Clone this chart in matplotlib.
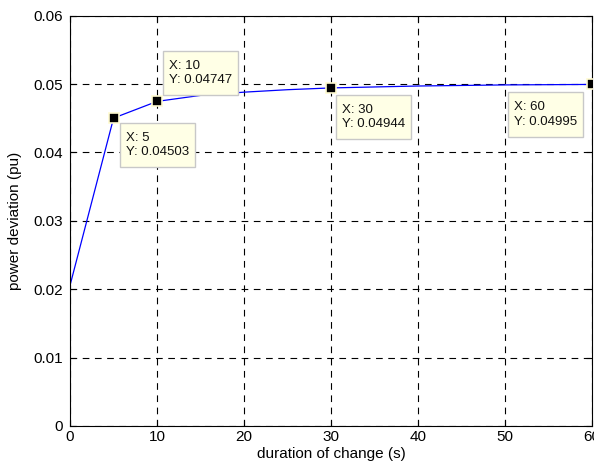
import numpy as np
import matplotlib.pyplot as plt
from matplotlib.transforms import IdentityTransform

plt.rcParams['font.family'] = ['Liberation Sans', 'DejaVu Sans']

# duration of change (s) vs power deviation (pu)
duration = [0, 5, 10, 15, 20, 25, 30, 40, 50, 60]
deviation = [0.0206, 0.04503, 0.04747, 0.04835, 0.04882, 0.04918, 0.04944, 0.04972, 0.04988, 0.04995]

# data tips
tip_x = [5, 10, 30, 60]
tip_y = [0.04503, 0.04747, 0.04944, 0.04995]
tip_off = [(12, -14), (12, 15), (11, -16), (-15, -17)]
tip_ha = ['left', 'left', 'left', 'right']
tip_va = ['top', 'bottom', 'top', 'top']

fig = plt.figure(figsize=(5.94, 4.69), dpi=100)
ax = fig.add_axes([0.118, 0.0917, 0.8786, 0.8748])

ax.plot(duration, deviation, color='#0000ff', lw=0.9)
ax.plot(tip_x, tip_y, 's', color='black', ms=7.5, mec='#fffbd0', mew=1.2, zorder=5)

tips = []
for x, y, off, ha, va in zip(tip_x, tip_y, tip_off, tip_ha, tip_va):
    t = ax.annotate('X: %g\nY: %s' % (x, ('%.5f' % y).rstrip('0')), xy=(x, y), xytext=off,
                    textcoords='offset pixels', ha=ha, va=va, fontsize=9.5,
                    multialignment='left', linespacing=1.25, zorder=7, color='#111111')
    tips.append(t)

ax.set_xlim(0, 60)
ax.set_ylim(0, 0.06)
ax.set_xticks(np.arange(0, 61, 10))
ax.set_yticks(np.arange(0, 0.061, 0.01))
ax.set_yticklabels(['0', '0.01', '0.02', '0.03', '0.04', '0.05', '0.06'])
ax.grid(True, color='black', ls=(0, (6, 5)), lw=0.8)
ax.tick_params(direction='in', length=4, labelsize=11, top=True, right=True)
ax.tick_params(axis='y', pad=5)
ax.tick_params(axis='x', pad=3)
for s in ax.spines.values():
    s.set_linewidth(0.8)

ax.set_xlabel('duration of change (s)', fontsize=11, labelpad=2)
ax.set_ylabel('power deviation (pu)', fontsize=11)
ax.yaxis.set_label_coords(-0.093, 0.5)

# data tip boxes, drawn round the text in pixels
fig.canvas.draw()
rend = fig.canvas.get_renderer()
for t in tips:
    bb = t.get_window_extent(rend)
    box = plt.Rectangle((bb.x0 - 6, bb.y0 - 9), bb.width + 12, bb.height + 18,
                        transform=IdentityTransform(), fc='#ffffe6', ec='#c8c8c8',
                        lw=1, zorder=6)
    ax.add_patch(box)

plt.savefig('out.png', dpi=100)
